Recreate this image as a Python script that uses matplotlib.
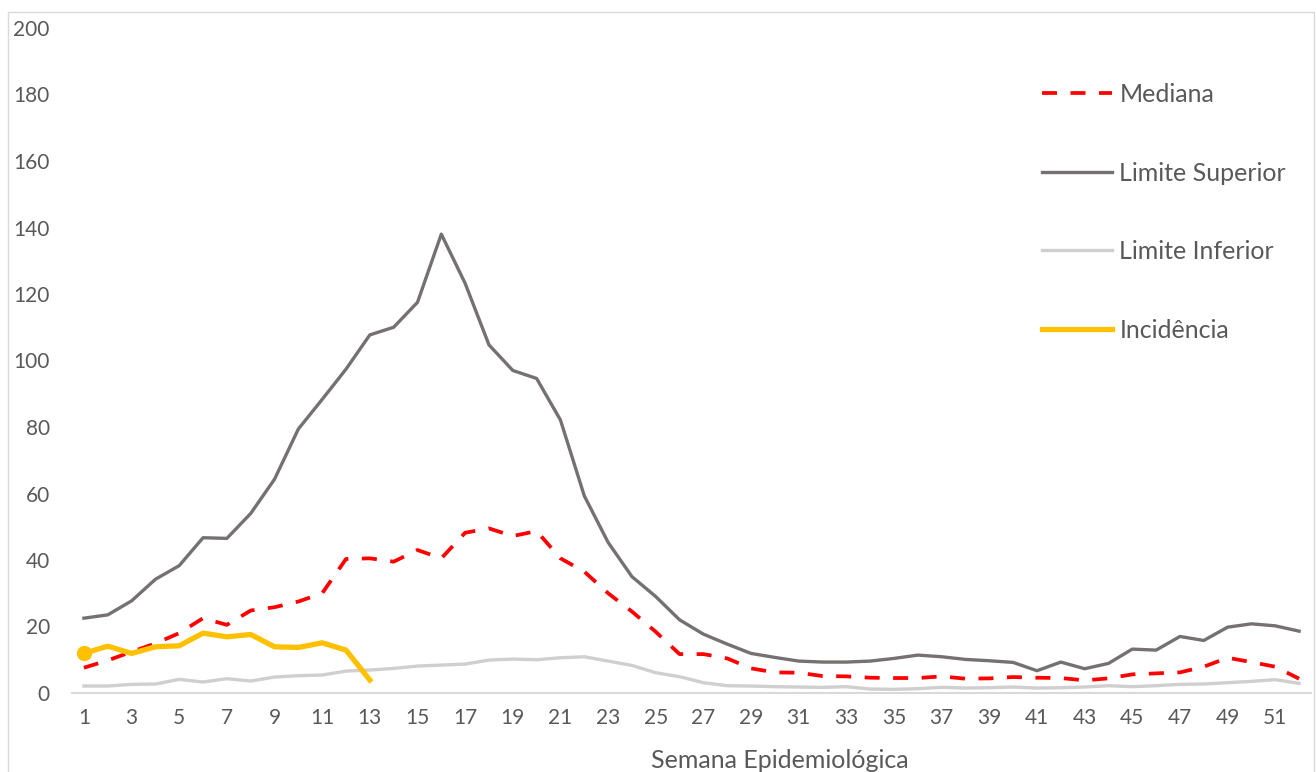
import matplotlib.pyplot as plt
from matplotlib.patches import Rectangle
import numpy as np

plt.rcParams['font.family'] = ['Lato', 'DejaVu Sans']

semanas = np.arange(1, 53)

limite_superior = [22.5, 23.5, 27.7, 34.2, 38.3, 46.7, 46.5, 54.0, 64.3, 79.4,
                   88.3, 97.4, 107.7, 110.0, 117.5, 138.0, 123.2, 104.7, 97.0, 94.6,
                   82.1, 59.3, 45.3, 35.0, 29.0, 22.0, 17.7, 14.7, 11.9, 10.7,
                   9.6, 9.3, 9.3, 9.6, 10.4, 11.4, 10.9, 10.1, 9.7, 9.2,
                   6.7, 9.3, 7.3, 8.9, 13.2, 12.9, 17.0, 15.8, 19.8, 20.8,
                   20.2, 18.6]

mediana = [7.6, 9.8, 12.4, 14.9, 18.0, 22.5, 20.5, 24.8, 25.8, 27.5,
           30.0, 40.3, 40.5, 39.5, 43.0, 40.5, 48.2, 49.5, 47.2, 48.7,
           40.5, 36.5, 30.0, 24.5, 18.4, 11.7, 11.7, 10.4, 7.4, 6.2,
           6.1, 5.1, 5.0, 4.6, 4.5, 4.5, 5.0, 4.3, 4.4, 4.8,
           4.6, 4.5, 3.8, 4.4, 5.6, 5.9, 6.2, 7.9, 10.6, 9.3,
           7.9, 4.3]

limite_inferior = [2.1, 2.1, 2.6, 2.7, 4.1, 3.3, 4.3, 3.6, 4.8, 5.2,
                   5.4, 6.6, 6.9, 7.4, 8.1, 8.4, 8.7, 9.9, 10.2, 10.0,
                   10.6, 10.9, 9.6, 8.3, 6.1, 4.9, 3.1, 2.2, 2.1, 1.9,
                   1.8, 1.7, 1.9, 1.2, 1.1, 1.3, 1.7, 1.5, 1.6, 1.8,
                   1.5, 1.6, 1.8, 2.2, 1.9, 2.2, 2.6, 2.7, 3.1, 3.5,
                   4.0, 2.9]

incidencia = [11.9, 14.1, 11.9, 13.9, 14.2, 18.0, 16.9, 17.6, 13.9, 13.7,
              15.1, 12.9, 3.9]

W, H = 1316, 772
fig = plt.figure(figsize=(W / 100, H / 100), dpi=100)
ax = fig.add_axes([72 / W, 1 - 693 / H, (1311 - 72) / W, (693 - 28) / H])

ax.plot(semanas, mediana, color='#FF0000', lw=2.7, ls=(0, (4, 3.6)), label='Mediana')
ax.plot(semanas, limite_superior, color='#767171', lw=2.4, label='Limite Superior')
ax.plot(semanas, limite_inferior, color='#D0CECE', lw=2.4, label='Limite Inferior')
ax.plot(semanas[:len(incidencia)], incidencia, color='#FFC000', lw=3.8,
        marker='o', markevery=[0], markersize=10, label='Incidência')

ax.set_xlim(0.5, 52.5)
ax.set_ylim(0, 200)
ax.set_yticks(np.arange(0, 201, 20))
ax.set_xticks(np.arange(1, 53, 2))

for s in ['top', 'right', 'left']:
    ax.spines[s].set_visible(False)
ax.spines['bottom'].set_color('#D9D9D9')
ax.spines['bottom'].set_linewidth(1.5)

ax.tick_params(axis='x', length=0, pad=11, labelsize=15, labelcolor='#595959')
ax.tick_params(axis='y', length=0, pad=16, labelsize=15, labelcolor='#595959')

fig.text(780 / W, 1 - 749 / H, 'Semana Epidemiológica', ha='center', va='top',
         fontsize=18, color='#595959')

leg = ax.legend(loc='upper left', bbox_to_anchor=((1043 - 72) / (1311 - 72) - 0.009, 0.932),
                frameon=False, fontsize=18, handlelength=2.8, handletextpad=0.3,
                labelspacing=2.22, borderaxespad=0)
for t in leg.get_texts():
    t.set_color('#595959')
for h in leg.legend_handles:
    h.set_marker('')

fig.add_artist(Rectangle((8 / W, -0.1), (1314 - 8) / W, 1.1 - 12 / H,
                         transform=fig.transFigure, fill=False,
                         edgecolor='#D9D9D9', lw=1))

plt.savefig('out.png')
